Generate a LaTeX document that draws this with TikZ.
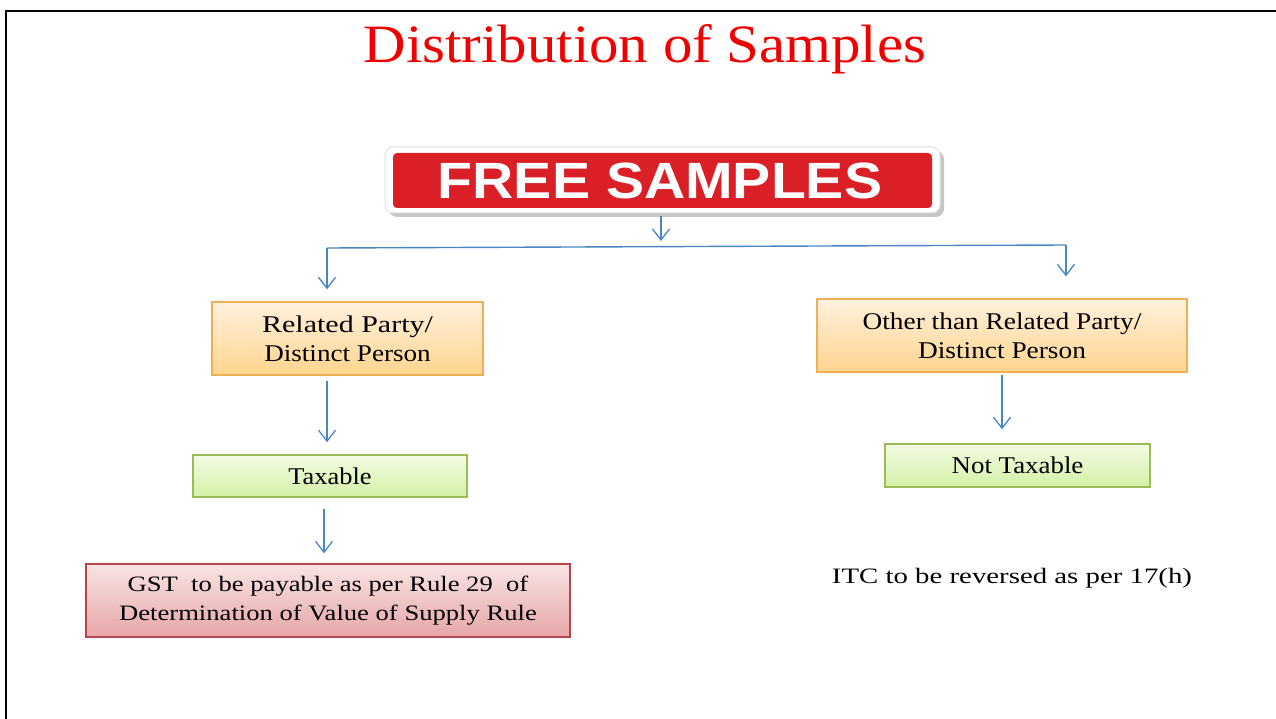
\documentclass[tikz,border=0pt]{standalone}
\usepackage{fontspec}
\setmainfont{Liberation Serif}
\newfontfamily\fsfont{Liberation Sans}
\usetikzlibrary{arrows.meta}
\definecolor{titlered}{HTML}{F00000}
\definecolor{arrblue}{HTML}{4A86C5}
\definecolor{fsred}{HTML}{DA1F26}
\definecolor{orbord}{HTML}{EDB054}
\definecolor{ortop}{HTML}{FFF1DE}
\definecolor{orbot}{HTML}{FFD48E}
\definecolor{grbord}{HTML}{9BBB59}
\definecolor{grtop}{HTML}{F3FBE4}
\definecolor{grbot}{HTML}{D3F1A6}
\definecolor{pkbord}{HTML}{B5474A}
\definecolor{pktop}{HTML}{F9E4E4}
\definecolor{pkbot}{HTML}{E6A6A8}
\newcommand{\sxtext}[2]{\scalebox{#1}[1]{#2}}
\tikzset{
  x=1pt, y=-1pt,
  arr/.style={draw=arrblue, line width=1.4pt, -{Straight Barb[length=11pt,width=17pt,line width=1.3pt]}},
  conn/.style={draw=arrblue, line width=1.4pt},
  obox/.style={draw=orbord, line width=1.3pt, top color=ortop, bottom color=orbot, inner sep=0pt, align=center, font=\fontsize{24}{29}\selectfont},
  gbox/.style={draw=grbord, line width=1.5pt, top color=grtop, bottom color=grbot, inner sep=0pt, align=center, font=\fontsize{24}{29}\selectfont},
  pbox/.style={draw=pkbord, line width=1.3pt, top color=pktop, bottom color=pkbot, inner sep=0pt, align=center, font=\fontsize{22}{29}\selectfont},
}
\begin{document}
\begin{tikzpicture}
\useasboundingbox (0,0) rectangle (1276,719);
\fill[white] (0,0) rectangle (1276,719);
% frame
\draw[line width=2.2pt, black] (6,719) -- (6,11) -- (1276,11);
% title
\node (title) at (645,49) {\fontsize{54}{60}\selectfont\color{titlered}\sxtext{1.09}{Distribution of Samples}};
% free samples sign
\fill[gray!45, rounded corners=8pt] (389,151) rectangle (944,217);
\node[fill=white, draw=gray!25, line width=1pt, rounded corners=8pt, minimum width=555pt, minimum height=66pt, inner sep=0pt] (fs) at (662.5,180) {};
\fill[fsred, rounded corners=4pt] (393,153) rectangle (932,208);
\node[text=white, inner sep=0pt] (fstext) at (660,181) {\fsfont\bfseries\fontsize{51}{51}\selectfont\sxtext{1.12}{FREE SAMPLES}};
% boxes
\node[obox, minimum width=271pt, minimum height=73pt] (rp) at (347.5,338.5) {\sxtext{1.25}{Related Party/}\\\sxtext{1.13}{Distinct Person}};
\node[gbox, minimum width=274pt, minimum height=42pt] (tax) at (330,476) {\sxtext{1.1}{Taxable}};
\node[pbox, minimum width=484pt, minimum height=73pt] (gst) at (328,600.5) {\sxtext{1.21}{GST\ \ to be payable as per Rule 29\ \ of}\\\sxtext{1.21}{Determination of Value of Supply Rule}};
\node[obox, minimum width=370pt, minimum height=73pt] (oth) at (1002,335.5) {\sxtext{1.14}{Other than Related Party/}\\\sxtext{1.14}{Distinct Person}};
\node[gbox, minimum width=265pt, minimum height=43pt] (nt) at (1017.5,465.5) {\sxtext{1.12}{Not Taxable}};
\node[font=\fontsize{22}{26}\selectfont] (itc) at (1012,578) {\sxtext{1.31}{ITC to be reversed as per 17(h)}};
% junction coordinates
\coordinate (jm) at (661,241);
\coordinate (jl) at (327,248);
\coordinate (jr) at (1066,245);
\coordinate (cl) at (327,0);
\coordinate (cg) at (324,0);
\coordinate (co) at (1002,0);
% connectors
\draw[arr, shorten <=3pt] (fs.south -| jm) -- (jm);
\draw[conn] (jl) -- (jr);
\draw[arr, shorten >=12pt] (jl) -- (jl |- rp.north);
\draw[arr, shorten >=22pt] (jr) -- (jr |- oth.north);
\draw[arr, shorten <=5pt, shorten >=12pt] (rp.south -| cl) -- (tax.north -| cl);
\draw[arr, shorten <=11pt, shorten >=10pt] (tax.south -| cg) -- (gst.north -| cg);
\draw[arr, shorten <=2pt, shorten >=14pt] (oth.south -| co) -- (nt.north -| co);
\end{tikzpicture}
\end{document}
